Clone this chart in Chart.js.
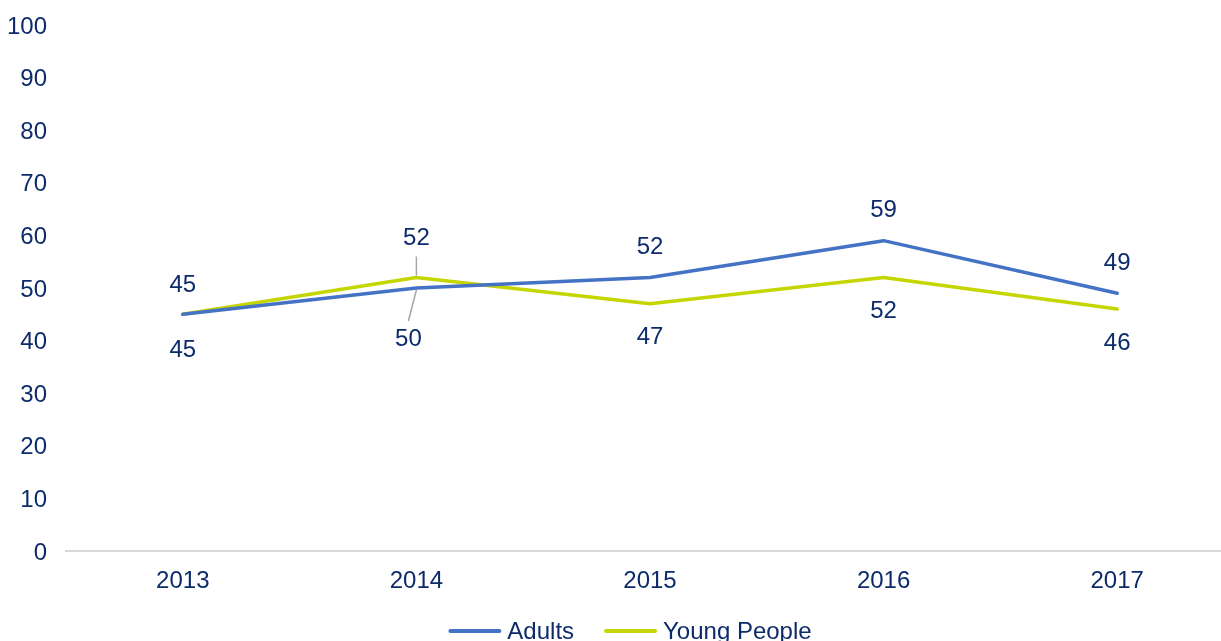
<!DOCTYPE html>
<html>
<head>
<meta charset="utf-8">
<script src="https://cdn.jsdelivr.net/npm/chart.js@4/dist/chart.umd.min.js"></script>
<style>
  html, body { margin: 0; padding: 0; background: #fff; overflow: hidden; }
  #wrap { position: relative; width: 1260px; height: 641px; }
</style>
</head>
<body>
<div id="wrap"><canvas id="chart"></canvas></div>
<script>
// Serie anual por grupo de edad
const years = ['2013', '2014', '2015', '2016', '2017'];
const adults = [45, 50, 52, 59, 49];
const youngPeople = [45, 52, 47, 52, 46];

const TEXT = '#0d2b6b';
const COLORS = { adults: '#4472c4', young: '#c5d500', axis: '#d9d9d9', leader: '#a6a6a6' };
const FONT = { family: '"Liberation Sans", Arial, sans-serif', size: 24 };

// Posición de cada etiqueta respecto a su punto (dy < 0 = arriba).
// En 2014 las líneas se cruzan, así que las etiquetas van más lejos con línea guía.
const adultsLabelPos = [
  { dx: 0, dy: 36 }, { dx: -8, dy: 51, leader: true }, { dx: 0, dy: -30 }, { dx: 0, dy: -30 }, { dx: 0, dy: -30 }
];
const youngLabelPos = [
  { dx: 0, dy: -29 }, { dx: 0, dy: -39, leader: true }, { dx: 0, dy: 34 }, { dx: 0, dy: 34 }, { dx: 0, dy: 34 }
];

const pointLabels = {
  id: 'pointLabels',
  afterDatasetsDraw(chart) {
    const ctx = chart.ctx;
    ctx.save();
    ctx.font = `${FONT.size}px ${FONT.family}`;
    ctx.textAlign = 'center';
    ctx.textBaseline = 'middle';
    chart.data.datasets.forEach((ds, i) => {
      const meta = chart.getDatasetMeta(i);
      meta.data.forEach((pt, j) => {
        const pos = ds.labelPos[j];
        const lx = pt.x + pos.dx;
        const ly = pt.y + pos.dy;
        if (pos.leader) {
          const s = Math.sign(pos.dy);
          ctx.strokeStyle = COLORS.leader;
          ctx.lineWidth = 1.5;
          ctx.beginPath();
          ctx.moveTo(lx, ly - s * 18);
          ctx.lineTo(pt.x, pt.y + s * 2);
          ctx.stroke();
        }
        ctx.fillStyle = TEXT;
        ctx.fillText(String(ds.data[j]), lx, ly);
      });
    });
    ctx.restore();
  }
};

// Leyenda propia: línea corta + texto pegado, centrada en el lienzo
const lineLegend = {
  id: 'lineLegend',
  afterDraw(chart) {
    const ctx = chart.ctx;
    const lineW = 53, gap = 6, itemGap = 30, y = 632;
    ctx.save();
    ctx.font = `${FONT.size}px ${FONT.family}`;
    ctx.textBaseline = 'middle';
    const items = chart.data.datasets.map(ds => ({ ds, w: ctx.measureText(ds.label).width }));
    const total = items.reduce((s, it) => s + lineW + gap + it.w, 0) + itemGap * (items.length - 1);
    let x = chart.width / 2 - total / 2;
    items.forEach(({ ds, w }) => {
      ctx.strokeStyle = ds.borderColor;
      ctx.lineWidth = 4;
      ctx.lineCap = 'round';
      ctx.beginPath();
      ctx.moveTo(x + 2, y - 1);
      ctx.lineTo(x + lineW - 2, y - 1);
      ctx.stroke();
      ctx.fillStyle = TEXT;
      ctx.fillText(ds.label, x + lineW + gap, y);
      x += lineW + gap + w + itemGap;
    });
    ctx.restore();
  }
};

new Chart(document.getElementById('chart'), {
  type: 'line',
  data: {
    labels: years,
    datasets: [
      { label: 'Adults', data: adults, borderColor: COLORS.adults, backgroundColor: COLORS.adults, borderWidth: 3.5, borderCapStyle: 'round', borderJoinStyle: 'round', pointRadius: 0, labelPos: adultsLabelPos },
      { label: 'Young People', data: youngPeople, borderColor: COLORS.young, backgroundColor: COLORS.young, borderWidth: 3.5, borderCapStyle: 'round', borderJoinStyle: 'round', pointRadius: 0, labelPos: youngLabelPos }
    ]
  },
  options: {
    responsive: true,
    maintainAspectRatio: false,
    animation: false,
    layout: { padding: { top: 25, right: 26, bottom: 50, left: 0 } },
    plugins: {
      tooltip: { enabled: false },
      legend: { display: false }
    },
    scales: {
      x: {
        offset: true,
        grid: { display: false, drawTicks: false },
        border: { color: COLORS.axis, width: 2 },
        ticks: { color: TEXT, font: FONT, padding: 16, maxRotation: 0 },
        afterFit: scale => { scale.height = 40; }
      },
      y: {
        min: 0,
        max: 100,
        grid: { display: false, drawTicks: false },
        border: { display: false },
        ticks: { stepSize: 10, color: TEXT, font: FONT, padding: 19, labelOffset: 2 },
        afterFit: scale => {
          scale.width = 66;
          scale.paddingTop = 0;
          scale.paddingBottom = 0;
        }
      }
    }
  },
  plugins: [pointLabels, lineLegend]
});
</script>
</body>
</html>
